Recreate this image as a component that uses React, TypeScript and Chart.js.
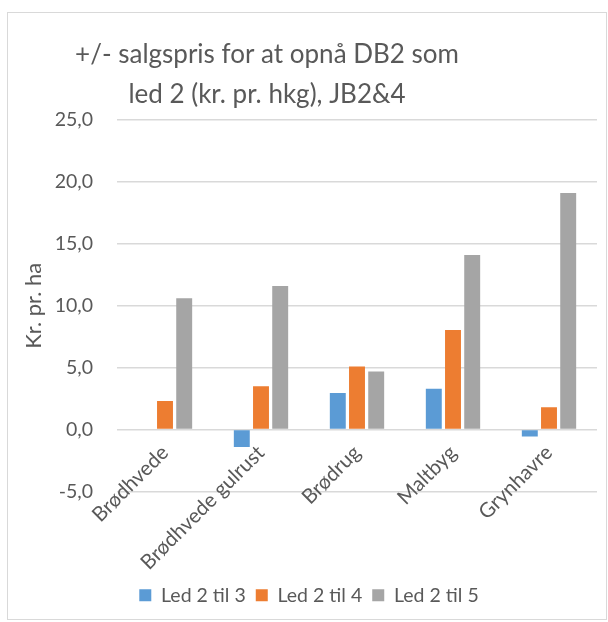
import React, { useEffect, useRef } from "react";
import { Chart, registerables } from "chart.js";

Chart.register(...registerables);

const categories = ["Brødhvede", "Brødhvede gulrust", "Brødrug", "Maltbyg", "Grynhavre"];
const led2til3 = [0, -1.4, 2.95, 3.3, -0.55];
const led2til4 = [2.3, 3.5, 5.1, 8.05, 1.8];
const led2til5 = [10.6, 11.6, 4.7, 14.1, 19.1];
const seriesNames = ["Led 2 til 3", "Led 2 til 4", "Led 2 til 5"];
const titleLines = ["+/- salgspris for at opnå DB2 som", "led 2 (kr. pr. hkg), JB2&4"];
const yAxisTitle = "Kr. pr. ha";

const FONT = "Lato, 'Open Sans', sans-serif";
const TEXT = "#595959";
const TITLE_SIZE = 26;
const TITLE_LINE = 40;
const TITLE_TOP = 35;

const titleDrawer = {
  id: "titleDrawer",
  afterDraw(chart: any) {
    const ctx = chart.ctx;
    ctx.save();
    ctx.fillStyle = TEXT;
    ctx.font = `normal ${TITLE_SIZE}px ${FONT}`;
    ctx.textAlign = "center";
    ctx.textBaseline = "middle";
    const cx = 267;
    titleLines.forEach((line, i) => {
      ctx.fillText(line, cx, TITLE_TOP + TITLE_LINE * i + TITLE_LINE / 2);
    });
    ctx.restore();
  },
};

export default function App() {
  const ref = useRef<HTMLCanvasElement | null>(null);
  useEffect(() => {
    if (!ref.current) return;
    const chart = new Chart(ref.current, {
      type: "bar",
      data: {
        labels: categories,
        datasets: [
          { label: seriesNames[0], data: led2til3, backgroundColor: "#5B9BD5" },
          { label: seriesNames[1], data: led2til4, backgroundColor: "#ED7D31" },
          { label: seriesNames[2], data: led2til5, backgroundColor: "#A5A5A5" },
        ],
      },
      plugins: [titleDrawer],
      options: {
        animation: false,
        responsive: false,
        maintainAspectRatio: false,
        datasets: { bar: { categoryPercentage: 0.6, barPercentage: 0.83 } },
        layout: { padding: { left: 21, right: 11, top: 0, bottom: 7 } },
        plugins: {
          title: {
            display: true,
            text: titleLines,
            color: "rgba(0,0,0,0)",
            font: { family: FONT, size: TITLE_SIZE, weight: "normal", lineHeight: TITLE_LINE / TITLE_SIZE },
            padding: { top: TITLE_TOP, bottom: 5 },
          },
          legend: {
            position: "bottom",
            labels: {
              color: TEXT,
              font: { family: FONT, size: 19.5 },
              boxWidth: 12,
              boxHeight: 12,
              padding: 10,
            },
          },
          tooltip: { enabled: false },
        },
        scales: {
          x: {
            position: { y: 0 } as any,
            grid: { display: false, drawTicks: false },
            border: { display: false },
            ticks: {
              color: TEXT,
              font: { family: FONT, size: 20.5 },
              maxRotation: 45,
              minRotation: 45,
              autoSkip: false,
              padding: 11,
            },
          },
          xpad: {
            type: "linear",
            axis: "x",
            position: "bottom",
            display: true,
            grid: { display: false, drawTicks: false },
            border: { display: false },
            ticks: { display: false },
            afterFit: (s: any) => {
              s.height = 84;
            },
          } as any,
          y: {
            min: -5,
            max: 25,
            grid: { color: "#D9D9D9", lineWidth: 1.5, drawTicks: false },
            border: { display: false },
            ticks: {
              stepSize: 5,
              color: TEXT,
              padding: 24,
              font: { family: FONT, size: 19.5 },
              callback: (v: any) => Number(v).toFixed(1).replace(".", ","),
            },
            title: {
              display: true,
              text: yAxisTitle,
              color: TEXT,
              font: { family: FONT, size: 22 },
              padding: 0,
            },
            afterFit: (s: any) => {
              s.width = 96;
            },
          },
        },
      },
    });
    return () => chart.destroy();
  }, []);
  return (
    <div style={{ position: "absolute", left: 0, top: 0, width: 608, height: 622, background: "#fff" }}>
      <div
        style={{
          position: "absolute",
          left: 7,
          top: 12,
          width: 600,
          height: 608,
          border: "1px solid #D9D9D9",
          boxSizing: "border-box",
        }}
      />
      <canvas ref={ref} width={608} height={622} style={{ position: "absolute", left: 0, top: 0 }} />
    </div>
  );
}
